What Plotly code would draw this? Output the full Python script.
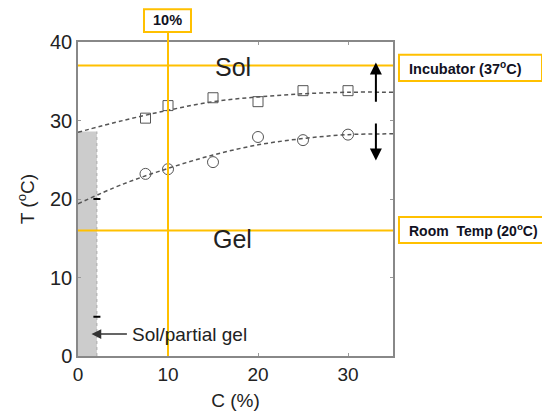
import plotly.graph_objects as go

# Data
conc_sq = [7.5, 10, 15, 20, 25, 30]
temp_sq = [30.3, 31.9, 32.9, 32.4, 33.8, 33.8]
conc_ci = [7.5, 10, 15, 20, 25, 30]
temp_ci = [23.2, 23.8, 24.7, 27.9, 27.5, 28.2]

fit_x = [0, 5, 10, 15, 20, 25, 30, 35]
fit_upper = [28.5, 30.0, 31.3, 32.4, 33.0, 33.4, 33.6, 33.6]
fit_lower = [19.4, 21.9, 23.9, 25.6, 26.9, 27.7, 28.2, 28.3]

small_x = [2.1, 2.1]
small_y = [20, 5]

incubator_T = 37
room_T = 16
conc_line = 10
shade_x = [0, 2.1, 2.1, 0, 0]
shade_y = [0, 0, 28.6, 28.6, 0]

ORANGE = "#FFC000"
GRAY = "#555555"
FONT = "Liberation Sans, Arial, sans-serif"

fig = go.Figure()

fig.add_trace(go.Scatter(x=shade_x, y=shade_y, fill="toself", fillcolor="#cccccc",
                         line=dict(width=0), mode="lines", hoverinfo="skip"))
fig.add_trace(go.Scatter(x=[2.1, 2.1], y=[0, 28.6], mode="lines",
                         line=dict(color="#aaaaaa", width=1, dash="dot")))

fig.add_trace(go.Scatter(x=fit_x, y=fit_upper, mode="lines", line_shape="spline",
                         line=dict(color=GRAY, width=1.5, dash="4px,3px")))
fig.add_trace(go.Scatter(x=fit_x, y=fit_lower, mode="lines", line_shape="spline",
                         line=dict(color=GRAY, width=1.5, dash="4px,3px")))

fig.add_trace(go.Scatter(x=conc_sq, y=temp_sq, mode="markers",
                         marker=dict(symbol="square-open", size=10, color=GRAY, line=dict(width=1))))
fig.add_trace(go.Scatter(x=conc_ci, y=temp_ci, mode="markers",
                         marker=dict(symbol="circle-open", size=11, color=GRAY, line=dict(width=1))))
fig.add_trace(go.Scatter(x=small_x, y=small_y, mode="markers",
                         marker=dict(symbol="line-ew", size=5, color="#000", line=dict(width=2, color="#000"))))

# Orange reference lines
fig.add_shape(type="line", xref="x", yref="y", x0=0, x1=35, y0=incubator_T, y1=incubator_T,
              line=dict(color=ORANGE, width=2))
fig.add_shape(type="line", xref="x", yref="y", x0=0, x1=35, y0=room_T, y1=room_T,
              line=dict(color=ORANGE, width=2))
fig.add_shape(type="line", xref="x", yref="paper", x0=conc_line, x1=conc_line, y0=0, y1=1.032,
              line=dict(color=ORANGE, width=2))

# Label boxes
fig.add_shape(type="rect", xref="paper", yref="paper", x0=1.019, x1=1.473, y0=0.876, y1=0.959,
              line=dict(color=ORANGE, width=2), fillcolor="white")
fig.add_shape(type="rect", xref="paper", yref="paper", x0=1.019, x1=1.49, y0=0.360, y1=0.443,
              line=dict(color=ORANGE, width=2), fillcolor="white")
fig.add_shape(type="rect", xref="paper", yref="paper", x0=0.2095, x1=0.3587, y0=1.032, y1=1.104,
              line=dict(color=ORANGE, width=2), fillcolor="white")

box_font = dict(family=FONT, size=14.5, color="#111122")
fig.add_annotation(xref="paper", yref="paper", x=1.043, y=0.9175, xanchor="left", yanchor="middle",
                   text="<b>Incubator (37<sup>o</sup>C)</b>", showarrow=False, font=box_font)
fig.add_annotation(xref="paper", yref="paper", x=1.043, y=0.4015, xanchor="left", yanchor="middle",
                   text="<b>Room  Temp (20<sup>o</sup>C)</b>", showarrow=False,
                   font=dict(family=FONT, size=14, color="#111122"))
fig.add_annotation(xref="paper", yref="paper", x=0.284, y=1.069, xanchor="center", yanchor="middle",
                   text="<b>10%</b>", showarrow=False, font=box_font)

# Region labels
fig.add_annotation(x=17.2, y=36.8, text="Sol", showarrow=False,
                   font=dict(family=FONT, size=25, color="#222"))
fig.add_annotation(x=17.2, y=14.9, text="Gel", showarrow=False,
                   font=dict(family=FONT, size=25, color="#222"))
fig.add_annotation(x=5.8, y=2.8, text="Sol/partial gel", showarrow=False, xanchor="left",
                   font=dict(family=FONT, size=19, color="#222"))

# Arrows
fig.add_annotation(x=1.5, y=2.8, ax=5.6, ay=2.8, axref="x", ayref="y", xref="x", yref="y",
                   text="", showarrow=True, arrowhead=2, arrowsize=1.3, arrowwidth=1.5,
                   arrowcolor="#333")
fig.add_annotation(x=33.1, y=37.4, ax=33.1, ay=32.2, axref="x", ayref="y", xref="x", yref="y",
                   text="", showarrow=True, arrowhead=2, arrowsize=1.2, arrowwidth=2,
                   arrowcolor="#000")
fig.add_annotation(x=33.1, y=24.9, ax=33.1, ay=29.8, axref="x", ayref="y", xref="x", yref="y",
                   text="", showarrow=True, arrowhead=2, arrowsize=1.2, arrowwidth=2,
                   arrowcolor="#000")

# The page body adds an 8px offset; margins compensate so the plot lands where the reference has it
fig.update_layout(
    width=550, height=419,
    margin=dict(l=70, r=165, t=34, b=71, autoexpand=False),
    paper_bgcolor="white", plot_bgcolor="white",
    showlegend=False,
    font=dict(family=FONT, color="#222"),
)
fig.update_xaxes(range=[0, 35], tickvals=[0, 10, 20, 30], showgrid=False, zeroline=False,
                 showline=True, linecolor="#888", linewidth=1.5, mirror="ticks",
                 ticks="inside", ticklen=3, tickcolor="#999", automargin=False,
                 tickfont=dict(size=19, color="#222"),
                 title=dict(text="C (%)", font=dict(size=19, color="#222"), standoff=10))
fig.update_yaxes(range=[0, 40], tickvals=[0, 10, 20, 30, 40], showgrid=False, zeroline=False,
                 showline=True, linecolor="#888", linewidth=1.5, mirror="ticks",
                 ticks="inside", ticklen=3, tickcolor="#999", automargin=False,
                 tickfont=dict(size=20, color="#222"),
                 title=dict(text="T (<sup>o</sup>C)", font=dict(size=19, color="#222"), standoff=10))

fig.write_html("out.html")
